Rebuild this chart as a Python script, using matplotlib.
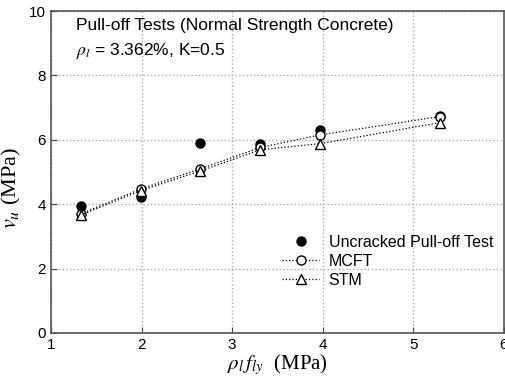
import matplotlib
matplotlib.use('agg')
import matplotlib.pyplot as plt
import matplotlib.ticker as ticker

plt.rcParams['font.family'] = ['Liberation Sans', 'DejaVu Sans']
plt.rcParams['mathtext.fontset'] = 'stix'

# data
rho_fy = [1.33, 1.99, 2.65, 3.31, 3.97, 5.29]
uncracked = [3.94, 4.21, 5.90, 5.87, 6.30, 6.75]
mcft = [3.70, 4.47, 5.10, 5.76, 6.15, 6.72]
stm = [3.66, 4.42, 5.03, 5.69, 5.88, 6.53]

x_ticks = [1, 2, 3, 4, 5, 6]
y_ticks = [0, 2, 4, 6, 8, 10]

fig = plt.figure(figsize=(5.05, 3.8), dpi=100)
ax = fig.add_axes([0.101, 0.124, 0.897, 0.847])

ax.plot(rho_fy, uncracked, linestyle='none', marker='o', markersize=6.5,
        color='black', label='Uncracked Pull-off Test', zorder=3)
ax.plot(rho_fy, mcft, linestyle=':', linewidth=0.9, marker='o', markersize=6.5,
        color='black', markerfacecolor='white', label='MCFT', zorder=4)
ax.plot(rho_fy, stm, linestyle=':', linewidth=0.9, marker='^', markersize=7,
        color='black', markerfacecolor='white', label='STM', zorder=5)

ax.set_xlim(1, 6)
ax.set_ylim(0, 10)
ax.set_xticks(x_ticks)
ax.set_yticks(y_ticks)
ax.tick_params(direction='in', length=4, labelsize=11, color='#444444')
ax.grid(True, linestyle=':', color='#aaaaaa', linewidth=1)
for s in ax.spines.values():
    s.set_color('#555555')
    s.set_linewidth(1.2)

ax.set_xlabel(r'$\rho_l\,f_{ly}$  (MPa)', fontsize=15, family='Liberation Serif', labelpad=0)
ax.set_ylabel(r'$v_u$ (MPa)', fontsize=16, family='Liberation Serif')
ax.yaxis.set_label_coords(-0.062, 0.45)

ax.text(0.055, 0.955, 'Pull-off Tests (Normal Strength Concrete)', transform=ax.transAxes,
        fontsize=12.5, va='center', ha='left')
ax.text(0.055, 0.875, r'$\rho_l$ = 3.362%, K=0.5', transform=ax.transAxes,
        fontsize=12.5, va='center', ha='left')

ax.legend(loc='lower right', bbox_to_anchor=(0.99, 0.12), frameon=False, fontsize=11.5,
          handlelength=2.3, handletextpad=0.6, labelspacing=0.25, borderaxespad=0)

fig.savefig('out.png', dpi=100)
